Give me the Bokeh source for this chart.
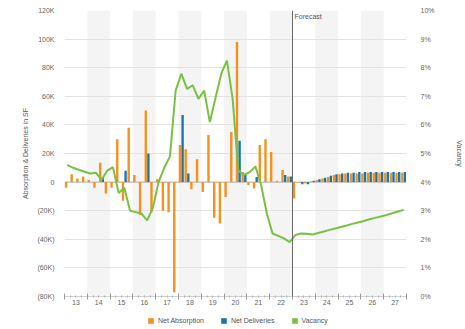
from bokeh.plotting import figure
from bokeh.layouts import column
from bokeh.models import (Range1d, LinearAxis, FixedTicker, Span, Label, Legend,
                          LegendItem, Grid, ColumnDataSource)
from bokeh.transform import dodge
from bokeh.embed import file_html
from bokeh.resources import INLINE

# ---------------- data ----------------
year_labels = ["13", "14", "15", "16", "17", "18", "19", "20",
               "21", "22", "23", "24", "25", "26", "27"]
forecast_start_quarter = 40  # 2023 Q1

# Net absorption per quarter, thousands of SF (2013Q1 .. 2027Q4)
net_absorption = [-4, 5.5, 2.5, 4, 1.5, -4, 13.5, -8,
                  -4, 30, -13, 38, 5, -23, 50, -21,
                  2, -20, -21, -77, 26, 23, -5, 16,
                  -7, 33, -25, -29, -10.5, 35, 98, 7,
                  -2, -4.5, 26, 30, 21, 1, 8.5, 4,
                  -11.5, -0.5, -1, 0.5, 1.5, 2.5, 3.5, 5,
                  5.5, 6, 6, 6, 6, 6.5, 6.5, 6.5,
                  6.5, 6.5, 6.5, 6.5]
# Net deliveries per quarter, thousands of SF
net_deliveries = [0, 0, 0, 0, 0, 0, 3.5, 0,
                  0, 0, 8, 0, 0, 0, 20, 0,
                  0, 0, 0, 0, 47, 6, 0, 0,
                  0, 0, 0, 0, 0, 0, 29, 5,
                  0, 3.5, 0, 0, 0, 0, 5, 4,
                  0, -1.5, -1.5, 1, 2, 3, 4.5, 5.5,
                  6, 6.5, 6.5, 7, 7, 7, 7, 7,
                  7, 7, 7, 7]
# Vacancy rate, %
vacancy = [4.6, 4.5, 4.43, 4.36, 4.3, 4.33, 4.08, 4.4,
           4.52, 3.62, 3.8, 3.0, 2.95, 2.9, 2.66, 3.1,
           4.0, 4.5, 4.9, 7.2, 7.79, 7.26, 7.38, 6.91,
           7.2, 6.1, 6.95, 7.79, 8.25, 6.9, 4.4, 4.25,
           4.35, 4.55, 3.9, 2.9, 2.2, 2.12, 2.03, 1.9,
           2.15, 2.2, 2.19, 2.17, 2.22, 2.27, 2.33, 2.38,
           2.43, 2.48, 2.54, 2.59, 2.64, 2.7, 2.75, 2.8,
           2.85, 2.91, 2.97, 3.03]

left_tick_values = [-80, -60, -40, -20, 0, 20, 40, 60, 80, 100, 120]
left_tick_labels = ["(80K)", "(60K)", "(40K)", "(20K)", "0", "20K", "40K",
                    "60K", "80K", "100K", "120K"]
right_tick_values = [0, 1, 2, 3, 4, 5, 6, 7, 8, 9, 10]
right_tick_labels = ["0%", "1%", "2%", "3%", "4%", "5%", "6%", "7%", "8%", "9%", "10%"]

# ---------------- styling ----------------
ORANGE = "#F7901E"
BLUE = "#1B78AA"
GREEN = "#7AC143"
FONT = "Liberation Sans"
TXT = "#666666"

n_q = len(net_absorption)
n_y = len(year_labels)

src = ColumnDataSource(dict(
    x=[i + 0.5 for i in range(n_q)],
    absorption=[v * 1000 for v in net_absorption],
    deliveries=[v * 1000 for v in net_deliveries],
    vacancy=vacancy,
))

p = figure(width=465, height=310,
           x_range=Range1d(0, n_q), y_range=Range1d(-80000, 120000),
           output_backend="svg", toolbar_location=None,
           x_axis_location=None, y_axis_location="left",
           min_border_left=64, min_border_right=55,
           min_border_top=10, min_border_bottom=14,
           outline_line_color=None, background_fill_color="white",
           border_fill_color="white")
p.extra_y_ranges = {"vac": Range1d(0, 10)}

# grids: year bands first, then horizontal lines
p.center = [r for r in p.center if not isinstance(r, Grid)]
year_bounds = [4 * j for j in range(n_y + 1)]
band_grid = Grid(dimension=0, ticker=FixedTicker(ticks=year_bounds),
                 grid_line_color=None, band_fill_color="#f4f4f4", band_fill_alpha=1.0)
h_grid = Grid(dimension=1, ticker=FixedTicker(ticks=[v * 1000 for v in left_tick_values]),
              grid_line_color="#e2e2e2", grid_line_width=1)
p.add_layout(band_grid)
p.add_layout(h_grid)
p.add_layout(Span(location=0, dimension="width", line_color="#b5b5b5", line_width=1, level="underlay"))

# bars
r_abs = p.vbar(x=dodge("x", -0.24, range=p.x_range), top="absorption", bottom=0,
               width=0.42, source=src, fill_color=ORANGE, line_color=None)
r_del = p.vbar(x=dodge("x", 0.22, range=p.x_range), top="deliveries", bottom=0,
               width=0.42, source=src, fill_color=BLUE, line_color=None)
# vacancy line
r_vac = p.line(x="x", y="vacancy", source=src, y_range_name="vac",
               line_color=GREEN, line_width=2)

# forecast marker
p.add_layout(Span(location=forecast_start_quarter, dimension="height",
                  line_color="#6a6a6a", line_width=1))
p.add_layout(Label(x=forecast_start_quarter, y=120000, x_offset=2, y_offset=-2,
                   text="Forecast", text_baseline="top", text_font=FONT,
                   text_font_size="7px", text_color="#555555"))

# left axis
ly = p.yaxis[0]
ly.ticker = FixedTicker(ticks=[v * 1000 for v in left_tick_values])
ly.major_label_overrides = {v * 1000: t for v, t in zip(left_tick_values, left_tick_labels)}
ly.axis_label = "Absorption & Deliveries in SF"

# right axis
ry = LinearAxis(y_range_name="vac", ticker=FixedTicker(ticks=right_tick_values),
                axis_label="Vacancy")
ry.major_label_overrides = {v: t for v, t in zip(right_tick_values, right_tick_labels)}
p.add_layout(ry, "right")

for ax in [ly, ry]:
    ax.axis_line_color = None
    ax.major_tick_line_color = None
    ax.minor_tick_line_color = None
    ax.major_label_text_font = FONT
    ax.major_label_text_font_size = "7px"
    ax.major_label_text_color = TXT
    ax.axis_label_text_font = FONT
    ax.axis_label_text_font_size = "7px"
    ax.axis_label_text_font_style = "normal"
    ax.axis_label_text_color = "#555555"
ly.major_label_standoff = 4
ly.axis_label_standoff = 5
ry.major_label_standoff = 8
ry.axis_label_standoff = 18

# x axes: tick marks at year boundaries / quarters, labels at year centres
quarter_bounds = [q for q in range(n_q + 1) if q % 4 != 0]
xa_ticks = LinearAxis(ticker=FixedTicker(ticks=year_bounds, minor_ticks=quarter_bounds),
                      major_label_overrides={b: "" for b in year_bounds},
                      major_label_text_font_size="0px", major_label_standoff=0,
                      major_tick_in=3, major_tick_out=3, minor_tick_in=1, minor_tick_out=1,
                      major_tick_line_color="#9a9a9a", minor_tick_line_color="#b0b0b0",
                      axis_line_color="#d0d0d0")
year_centres = [4 * j + 2 for j in range(n_y)]
xa_labels = LinearAxis(ticker=FixedTicker(ticks=year_centres),
                       major_label_overrides={c: t for c, t in zip(year_centres, year_labels)},
                       major_tick_in=0, major_tick_out=0, minor_tick_line_color=None,
                       major_tick_line_color=None, axis_line_color=None,
                       major_label_standoff=0, major_label_text_font=FONT,
                       major_label_text_font_size="7px", major_label_text_color=TXT)
p.add_layout(xa_ticks, "below")
p.add_layout(xa_labels, "below")

# legend strip under the chart (keys only; the series themselves are hidden here)
lg = figure(width=465, height=19, x_range=Range1d(1000, 1001), y_range=Range1d(0, 1),
            output_backend="svg", toolbar_location=None,
            x_axis_location=None, y_axis_location=None,
            min_border_left=0, min_border_right=0, min_border_top=0, min_border_bottom=0,
            outline_line_color=None, background_fill_color="white",
            border_fill_color="white")
lg.xgrid.visible = False
lg.ygrid.visible = False
k_abs = lg.vbar(x="x", top="absorption", width=0.4, source=src,
                fill_color=ORANGE, line_color=None, visible=False)
k_del = lg.vbar(x="x", top="deliveries", width=0.4, source=src,
                fill_color=BLUE, line_color=None, visible=False)
k_vac = lg.vbar(x="x", top="vacancy", width=0.4, source=src,
                fill_color=GREEN, line_color=None, visible=False)
legend = Legend(items=[LegendItem(label="Net Absorption", renderers=[k_abs]),
                       LegendItem(label="Net Deliveries", renderers=[k_del]),
                       LegendItem(label="Vacancy", renderers=[k_vac])],
                orientation="horizontal", location=(83, 5),
                glyph_width=7, glyph_height=7, label_standoff=4, spacing=16,
                padding=0, margin=0, border_line_color=None,
                background_fill_alpha=0, label_height=7,
                inactive_fill_alpha=0,
                label_text_font=FONT, label_text_font_size="7px",
                label_text_color="#555555")
lg.add_layout(legend)

layout = column(p, lg, spacing=0)
open("out.html", "w").write(file_html(layout, INLINE))
